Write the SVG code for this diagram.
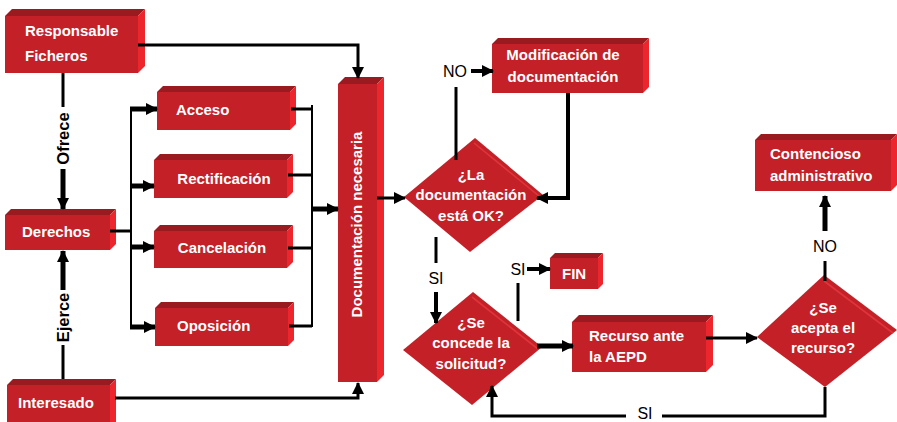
<svg xmlns="http://www.w3.org/2000/svg" width="897" height="422" viewBox="0 0 897 422">
<defs>
<style>
.front{fill:#C32027}
.top{fill:#991B20}
.side{fill:#EC262C}
.hl{stroke:#E0343B;stroke-width:1.6;fill:none}
.t{font-family:"Liberation Sans",Arial,sans-serif;font-weight:bold;font-size:15px;fill:#fff}
.lab{font-family:"Liberation Sans",Arial,sans-serif;font-size:16px;fill:#000}
.labb{font-family:"Liberation Sans",Arial,sans-serif;font-weight:bold;font-size:16.5px;fill:#000}
.c{fill:none;stroke:#000;stroke-linejoin:miter}
.w2{stroke-width:2}
.w3{stroke-width:3}
.w4{stroke-width:4}
.w5{stroke-width:5}
</style>
<marker id="ah" markerUnits="userSpaceOnUse" markerWidth="12" markerHeight="12" refX="11" refY="6" orient="auto">
<path d="M0,0 L12,6 L0,12 z" fill="#000"/>
</marker>
</defs>
<rect width="897" height="422" fill="#fff"/>

<g id="nodes">
<g id="responsable">
<rect class="front" x="5" y="16" width="133" height="57"/>
<polygon class="top" points="5,16 12,9 145,9 138,16"/>
<polygon class="side" points="138,16 145,9 145,66 138,73"/>
<text class="t" x="25" y="36">Responsable</text>
<text class="t" x="25" y="61">Ficheros</text>
</g>
<g id="acceso">
<rect class="front" x="157" y="92" width="133" height="38"/>
<polygon class="top" points="157,92 163,86 296,86 290,92"/>
<polygon class="side" points="290,92 296,86 296,124 290,130"/>
<text class="t" x="176" y="115">Acceso</text>
</g>
<g id="rectificacion">
<rect class="front" x="154" y="160" width="133" height="38"/>
<polygon class="top" points="154,160 160,154 293,154 287,160"/>
<polygon class="side" points="287,160 293,154 293,192 287,198"/>
<text class="t" x="224" y="184" text-anchor="middle">Rectificación</text>
</g>
<g id="cancelacion">
<rect class="front" x="154" y="231" width="133" height="37"/>
<polygon class="top" points="154,231 160,225 293,225 287,231"/>
<polygon class="side" points="287,231 293,225 293,262 287,268"/>
<text class="t" x="222" y="253" text-anchor="middle">Cancelación</text>
</g>
<g id="oposicion">
<rect class="front" x="155" y="308" width="133" height="38"/>
<polygon class="top" points="155,308 161,302 294,302 288,308"/>
<polygon class="side" points="288,308 294,302 294,340 288,346"/>
<text class="t" x="177" y="331">Oposición</text>
</g>
<g id="derechos">
<rect class="front" x="5" y="215" width="105" height="35"/>
<polygon class="top" points="5,215 11,209 116,209 110,215"/>
<polygon class="side" points="110,215 116,209 116,244 110,250"/>
<text class="t" x="22" y="237">Derechos</text>
</g>
<g id="interesado">
<rect class="front" x="7" y="385" width="103" height="40"/>
<polygon class="top" points="7,385 13,379 116,379 110,385"/>
<polygon class="side" points="110,385 116,379 116,422 110,422"/>
<text class="t" x="18" y="408">Interesado</text>
</g>
<g id="documentacion">
<rect class="front" x="338" y="84" width="39" height="298"/>
<polygon class="top" points="338,84 345,77 384,77 377,84"/>
<polygon class="side" points="377,84 384,77 384,375 377,382"/>
<text class="t" transform="translate(362,224.5) rotate(-90)" x="0" y="0" text-anchor="middle">Documentación necesaria</text>
</g>
<g id="modificacion">
<rect class="front" x="492" y="44" width="151" height="49"/>
<polygon class="top" points="492,44 498,38 649,38 643,44"/>
<polygon class="side" points="643,44 649,38 649,87 643,93"/>
<text class="t" x="563" y="60" text-anchor="middle">Modificación de</text>
<text class="t" x="563" y="82" text-anchor="middle">documentación</text>
</g>
<g id="decision-doc">
<polygon class="front" points="404,197 475,138 543,195 470,252"/>
<line class="hl" x1="474" y1="143" x2="539" y2="196"/>
<text class="t" x="471" y="180" text-anchor="middle">¿La</text>
<text class="t" x="471" y="200" text-anchor="middle">documentación</text>
<text class="t" x="471" y="221" text-anchor="middle">está OK?</text>
</g>
<g id="decision-concede">
<polygon class="front" points="403,350 473,292 542,347 472,405"/>
<line class="hl" x1="472" y1="297" x2="538" y2="349"/>
<text class="t" x="471" y="328" text-anchor="middle">¿Se</text>
<text class="t" x="471" y="348" text-anchor="middle">concede la</text>
<text class="t" x="471" y="369" text-anchor="middle">solicitud?</text>
</g>
<g id="fin">
<rect class="front" x="550" y="258" width="48" height="31"/>
<polygon class="top" points="550,258 555,253 603,253 598,258"/>
<polygon class="side" points="598,258 603,253 603,284 598,289"/>
<text class="t" x="562" y="279">FIN</text>
</g>
<g id="recurso">
<rect class="front" x="572" y="322" width="134" height="50"/>
<polygon class="top" points="572,322 579,315 713,315 706,322"/>
<polygon class="side" points="706,322 713,315 713,365 706,372"/>
<text class="t" x="589" y="341">Recurso ante</text>
<text class="t" x="589" y="362">la AEPD</text>
</g>
<g id="decision-acepta">
<polygon class="front" points="757,337 824,275 897,330 825,387"/>
<line class="hl" x1="824" y1="281" x2="893" y2="333"/>
<text class="t" x="823" y="313" text-anchor="middle">¿Se</text>
<text class="t" x="823" y="333" text-anchor="middle">acepta el</text>
<text class="t" x="823" y="353" text-anchor="middle">recurso?</text>
</g>
<g id="contencioso">
<rect class="front" x="755" y="140" width="136" height="51"/>
<polygon class="top" points="755,140 761,134 897,134 891,140"/>
<polygon class="side" points="891,140 897,134 897,185 891,191"/>
<text class="t" x="770" y="159">Contencioso</text>
<text class="t" x="770" y="181">administrativo</text>
</g>
</g>

<g id="connectors">
<path class="c w3" d="M138,45 H358 V78" marker-end="url(#ah)"/>
<path class="c w3" d="M63,73 V107"/>
<text class="labb" transform="translate(69,138.5) rotate(-90)" text-anchor="middle">Ofrece</text>
<path class="c w5" d="M63,169 V209" marker-end="url(#ah)"/>
<path class="c w3" d="M63,379 V345"/>
<text class="labb" transform="translate(69,317.5) rotate(-90)" text-anchor="middle">Ejerce</text>
<path class="c w5" d="M63,290 V251" marker-end="url(#ah)"/>
<path class="c w3" d="M110,231 H131"/>
<path class="c w2" d="M131,109 V327"/>
<path class="c w5" d="M130,109 H157" marker-end="url(#ah)"/>
<path class="c w5" d="M130,186 H154" marker-end="url(#ah)"/>
<path class="c w5" d="M130,247 H154" marker-end="url(#ah)"/>
<path class="c w5" d="M130,327 H155" marker-end="url(#ah)"/>
<path class="c w3" d="M291,109 H312"/>
<path class="c w3" d="M288,175 H312"/>
<path class="c w3" d="M288,248 H312"/>
<path class="c w3" d="M289,326 H312"/>
<path class="c w2" d="M312,105 V327"/>
<path class="c w5" d="M312,209 H338" marker-end="url(#ah)"/>
<path class="c w3" d="M115,398 H358 V383" marker-end="url(#ah)"/>
<path class="c w3" d="M377,198 H405" marker-end="url(#ah)"/>
<path class="c w3" d="M456,160 V87"/>
<text class="lab" x="443" y="77">NO</text>
<path class="c w4" d="M471,71 H493" marker-end="url(#ah)"/>
<path class="c w4" d="M568,93 V198 H537" marker-end="url(#ah)"/>
<path class="c w3" d="M436,237 V263"/>
<text class="lab" x="436" y="284" text-anchor="middle">SI</text>
<path class="c w4" d="M436,292 V323" marker-end="url(#ah)"/>
<path class="c w3" d="M518,321 V283"/>
<text class="lab" x="518" y="275" text-anchor="middle">SI</text>
<path class="c w4" d="M527,269 H550" marker-end="url(#ah)"/>
<path class="c w5" d="M537,346 H573" marker-end="url(#ah)"/>
<path class="c w3" d="M706,338 H757" marker-end="url(#ah)"/>
<path class="c w3" d="M825,281 V261"/>
<text class="lab" x="825" y="252" text-anchor="middle">NO</text>
<path class="c w5" d="M825,231 V196" marker-end="url(#ah)"/>
<path class="c w3" d="M825,387 V416 H662"/>
<text class="lab" x="645" y="419" text-anchor="middle">SI</text>
<path class="c w3" d="M626,416 H492 V386" marker-end="url(#ah)"/>
</g>
</svg>
